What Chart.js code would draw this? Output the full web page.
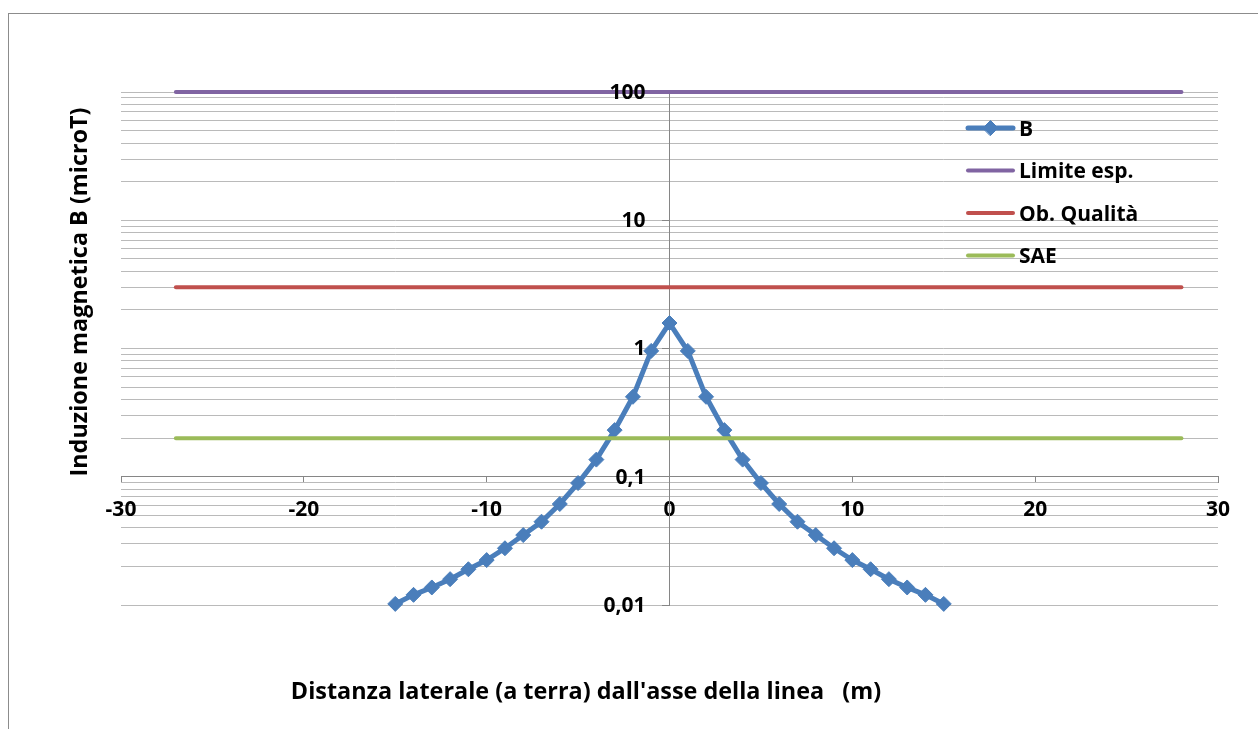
<!DOCTYPE html>
<html><head><meta charset="utf-8">
<script src="https://cdn.jsdelivr.net/npm/chart.js@4/dist/chart.umd.min.js"></script>
<style>
html,body{margin:0;padding:0;background:#fff;overflow:hidden}
#wrap{position:relative;width:1258px;height:729px}
#frame{position:absolute;left:8px;top:13px;width:1300px;height:800px;border-left:1.5px solid #8c8c8c;border-top:1.5px solid #8c8c8c}
canvas{position:absolute;left:0;top:0}
</style></head><body>
<div id="wrap"><div id="frame"></div><canvas id="c" width="1258" height="729"></canvas></div>
<script>
// ---- data ----
const distances = [-15,-14,-13,-12,-11,-10,-9,-8,-7,-6,-5,-4,-3,-2,-1,0,1,2,3,4,5,6,7,8,9,10,11,12,13,14,15];
const bValues = [0.0102,0.0120,0.0137,0.0159,0.0190,0.0224,0.0277,0.0351,0.0446,0.0613,0.0893,0.136,0.231,0.42,0.958,1.58,
                 0.958,0.42,0.231,0.136,0.0893,0.0613,0.0446,0.0351,0.0277,0.0224,0.0190,0.0159,0.0137,0.0120,0.0102];
const limitX = [-27, 28];
const limiteEsp = 100;
const obQualita = 3;
const sae = 0.2;
const seriesNames = ['B', 'Limite esp.', 'Ob. Qualità', 'SAE'];
const xTicks = [-30, -20, -10, 0, 10, 20, 30];
const yGridValues = [0.01,0.02,0.03,0.04,0.05,0.06,0.07,0.08,0.09,
                     0.1,0.2,0.3,0.4,0.5,0.6,0.7,0.8,0.9,
                     1,2,3,4,5,6,7,8,9,
                     10,20,30,40,50,60,70,80,90,100];
const yMajorTicks = [0.01, 0.1, 1, 10, 100];
const yTickLabels = ['0,01', '0,1', '1', '10', '100'];
const xTitle = "Distanza laterale (a terra) dall'asse della linea   (m)";
const yTitle = "Induzione magnetica B (microT)";

const FONT = '"Open Sans"';
const AXIS_GRAY = '#868686';

function flat(val) { return limitX.map(x => ({x: x, y: val})); }

const overlay = {
  id: 'overlay',
  afterDraw(chart) {
    const ctx = chart.ctx, ys = chart.scales.y, xs = chart.scales.x;
    ctx.save();
    // y tick labels, placed with the library's scales, left of the y axis (which sits at x = 0)
    const axisX = xs.getPixelForValue(0);
    ctx.fillStyle = '#000';
    ctx.font = 'bold 21px ' + FONT;
    ctx.textAlign = 'right';
    ctx.textBaseline = 'middle';
    yMajorTicks.forEach((v, i) => ctx.fillText(yTickLabels[i], axisX - 24, ys.getPixelForValue(v) + 1));
    // axis titles
    ctx.font = 'bold 23.4px ' + FONT;
    ctx.textAlign = 'center';
    ctx.textBaseline = 'alphabetic';
    ctx.fillText(xTitle, 586, 699);
    ctx.save();
    ctx.translate(87, 292);
    ctx.rotate(-Math.PI / 2);
    ctx.fillText(yTitle, 0, 0);
    ctx.restore();
    // legend
    const lx0 = 968, lx1 = 1013, tx = 1019, y0 = 128, dy = 42.5;
    chart.data.datasets.forEach((ds, i) => {
      const y = y0 + i * dy;
      ctx.strokeStyle = ds.borderColor;
      ctx.lineWidth = ds.borderWidth;
      ctx.lineCap = 'round';
      ctx.beginPath(); ctx.moveTo(lx0, y); ctx.lineTo(lx1, y); ctx.stroke();
      if (ds.pointRadius > 0) {
        ctx.fillStyle = ds.pointBackgroundColor;
        ctx.strokeStyle = ds.pointBorderColor;
        ctx.lineWidth = 1;
        Chart.helpers.drawPoint(ctx, {pointStyle: ds.pointStyle, radius: ds.pointRadius, rotation: 0, borderWidth: 1}, (lx0 + lx1) / 2, y);
      }
      ctx.fillStyle = '#000';
      ctx.textAlign = 'left';
      ctx.textBaseline = 'alphabetic';
      ctx.font = 'bold 21px ' + FONT;
      ctx.fillText(ds.label, tx, y + 7.5);
    });
    ctx.restore();
  }
};

new Chart(document.getElementById('c'), {
  type: 'line',
  data: {
    datasets: [
      { label: seriesNames[0], data: distances.map((x, i) => ({x: x, y: bValues[i]})),
        borderColor: '#4a7ebb', backgroundColor: '#4a7ebb', borderWidth: 5,
        pointStyle: 'rectRot', pointRadius: 7.5, pointHoverRadius: 7.5,
        pointBackgroundColor: '#4a7ebb', pointBorderColor: '#4a7ebb', pointBorderWidth: 1,
        tension: 0, clip: false, order: 1 },
      { label: seriesNames[1], data: flat(limiteEsp), borderColor: '#8064a2', borderWidth: 4,
        pointRadius: 0, borderCapStyle: 'round', clip: false, order: 0 },
      { label: seriesNames[2], data: flat(obQualita), borderColor: '#c0504d', borderWidth: 4,
        pointRadius: 0, borderCapStyle: 'round', clip: false, order: 0 },
      { label: seriesNames[3], data: flat(sae), borderColor: '#9bbb59', borderWidth: 4,
        pointRadius: 0, borderCapStyle: 'round', clip: false, order: 0 }
    ]
  },
  options: {
    responsive: false,
    animation: false,
    events: [],
    layout: { padding: { left: 121, top: 92, right: 40, bottom: 124 } },
    plugins: { legend: { display: false }, tooltip: { enabled: false }, title: { display: false } },
    scales: {
      x: {
        type: 'linear', min: -30, max: 30,
        position: { y: 0.1 },
        afterBuildTicks: (s) => { s.ticks = xTicks.map(v => ({value: v})); },
        grid: { display: true, drawOnChartArea: false, drawTicks: true, tickLength: 6, color: AXIS_GRAY, lineWidth: 1 },
        border: { display: true, color: AXIS_GRAY, width: 1 },
        ticks: { autoSkip: false, maxRotation: 0, padding: 15, color: '#000',
                 font: { family: 'Open Sans', size: 21, weight: 'bold' } }
      },
      y: {
        type: 'logarithmic', min: 0.01, max: 100,
        position: { x: 0 },
        afterBuildTicks: (s) => { s.ticks = yGridValues.map(v => ({value: v})); },
        grid: { display: true, drawOnChartArea: true, drawTicks: true, tickLength: 7,
                color: '#bababa', lineWidth: 1,
                tickColor: (c) => (c.tick && yMajorTicks.includes(c.tick.value)) ? AXIS_GRAY : 'rgba(0,0,0,0)' },
        border: { display: true, color: AXIS_GRAY, width: 1 },
        ticks: { display: false }
      }
    }
  },
  plugins: [overlay]
});
</script>
</body></html>
